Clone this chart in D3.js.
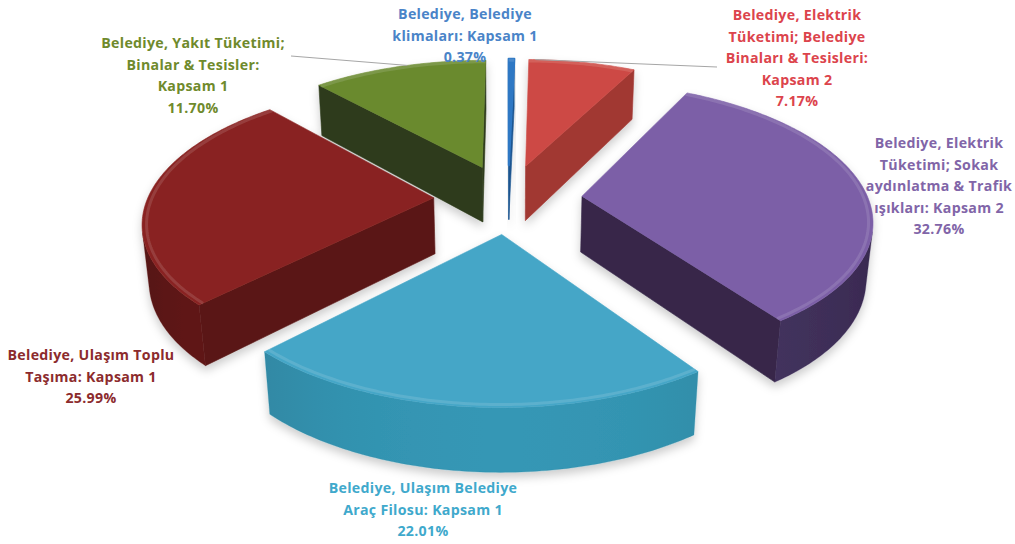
<!DOCTYPE html>
<html><head><meta charset="utf-8">
<script src="https://cdn.jsdelivr.net/npm/d3@7"></script>
<style>body{margin:0;background:#fff} svg{display:block}</style>
</head><body>
<script>
// ---- data ----
const categories = [
  "Belediye, Belediye klimaları: Kapsam 1",
  "Belediye, Elektrik Tüketimi; Belediye Binaları & Tesisleri: Kapsam 2",
  "Belediye, Elektrik Tüketimi; Sokak aydınlatma & Trafik ışıkları: Kapsam 2",
  "Belediye, Ulaşım Belediye Araç Filosu: Kapsam 1",
  "Belediye, Ulaşım Toplu Taşıma: Kapsam 1",
  "Belediye, Yakıt Tüketimi; Binalar & Tesisler: Kapsam 1"
];
const labelLines = [
  ["Belediye, Belediye", "klimaları: Kapsam 1"],
  ["Belediye, Elektrik", "Tüketimi; Belediye", "Binaları & Tesisleri:", "Kapsam 2"],
  ["Belediye, Elektrik", "Tüketimi; Sokak", "aydınlatma & Trafik", "ışıkları: Kapsam 2"],
  ["Belediye, Ulaşım Belediye", "Araç Filosu: Kapsam 1"],
  ["Belediye, Ulaşım Toplu", "Taşıma: Kapsam 1"],
  ["Belediye, Yakıt Tüketimi;", "Binalar & Tesisler:", "Kapsam 1"]
];
const values = [0.37, 7.17, 32.76, 22.01, 25.99, 11.70];
const percentLabels = ["0.37%", "7.17%", "32.76%", "22.01%", "25.99%", "11.70%"];

// ---- styles / layout ----
const topColors    = ["#2f78c4", "#cd4a44", "#7c5fa7", "#45a6c7", "#892321", "#6a8a2f"];
const radialColors = ["#1d5590", "#a13733", "#372849", "#2b7d96", "#5a1715", "#2d3a1b"];
const outerColors  = ["#245f9e", "#b03c37", "#3f2f59", "#2f88a3", "#5f1816", "#3e5020"];
const labelColors  = ["#4a84c8", "#dc444c", "#8165a8", "#3fa9cc", "#8c2b2d", "#6f8a2c"];
const labelPos     = [[465, 14], [797, 15], [939, 143], [423, 488], [91, 355], [193, 43]];
const leaderEnds   = [null, [717, 67], null, null, null, [291, 56]];
const leaderFrac   = [0.5, 0.06, 0.5, 0.5, 0.5, 0.55];

const W = 1015, H = 544;
const svg = d3.select("body").append("svg").attr("width", W).attr("height", H);

const defs = svg.append("defs");
const flt = defs.append("filter").attr("id", "sh").attr("x", "-20%").attr("y", "-20%").attr("width", "140%").attr("height", "150%");
flt.append("feDropShadow").attr("dx", 0).attr("dy", 5).attr("stdDeviation", 5)
   .attr("flood-color", "#000").attr("flood-opacity", 0.2);

// perspective projection of a pie lying on a plane
const D = 5.6, sa = 0.465, ca = Math.sqrt(1 - sa * sa), F = 1602, cx = 508, cy = 198.5;
const E = 0.26, HD = 0.225;
const cam = [0, D * ca, D * sa];
function proj(p) {
  const [u, v, w] = p;
  const xc = u, yc = v * sa - w * ca, zc = D - v * ca - w * sa;
  return [cx + F * xc / zc, cy + F * yc / zc];
}
const line = d3.line().curve(d3.curveLinearClosed);

const arcs = d3.pie().sort(null).value(d => d)(values);

const slices = arcs.map((a, i) => {
  const s = a.startAngle, e = a.endAngle, m = (s + e) / 2;
  const ou = E * Math.sin(m), ov = -E * Math.cos(m);
  return {i, s, e, m, ou, ov, z: D - ov * ca};
}).sort((a, b) => b.z - a.z);

const g = svg.append("g");
slices.forEach(sl => {
  const {i, s, e, ou, ov} = sl;
  const P = (t, r, w) => [ou + r * Math.sin(t), ov - r * Math.cos(t), w];
  const N = Math.max(2, Math.ceil((e - s) / 0.015));
  const ts = d3.range(N + 1).map(k => s + (e - s) * k / N);
  const gs = g.append("g").attr("filter", "url(#sh)");
  const vis = (n, p) => n[0] * (cam[0] - p[0]) + n[1] * (cam[1] - p[1]) > 0;

  // radial walls
  [[s, [-Math.cos(s), -Math.sin(s)]], [e, [Math.cos(e), Math.sin(e)]]].forEach(([t, n]) => {
    if (vis(n, [ou, ov])) {
      const pts = [P(t, 0, 0), P(t, 1, 0), P(t, 1, -HD), P(t, 0, -HD)].map(proj);
      gs.append("path").attr("d", line(pts)).attr("fill", radialColors[i])
        .attr("stroke", radialColors[i]).attr("stroke-width", 0.6).attr("stroke-linejoin", "round");
    }
  });
  // outer curved wall: visible runs drawn as one polygon with a horizontal gradient
  const runs = []; let cur = null;
  ts.forEach((t, k) => {
    const n = [Math.sin(t), -Math.cos(t)];
    const ok = vis(n, P(t, 1, 0));
    if (ok) { if (!cur) { cur = []; runs.push(cur); } cur.push(t); }
    else cur = null;
  });
  runs.forEach((run, ri) => {
    if (run.length < 2) return;
    const topP = run.map(t => proj(P(t, 1, 0)));
    const botP = run.map(t => proj(P(t, 1, -HD))).reverse();
    const xs = topP.map(p => p[0]);
    const x0 = d3.min(xs), x1 = d3.max(xs);
    const gid = `wg${i}_${ri}`;
    const lg = defs.append("linearGradient").attr("id", gid).attr("gradientUnits", "userSpaceOnUse")
      .attr("x1", x0).attr("x2", x1).attr("y1", 0).attr("y2", 0);
    const samples = run.map((t, k) => {
      const n = [Math.sin(t), -Math.cos(t)];
      const pm = P(t, 1, 0);
      const dv = [cam[0] - pm[0], cam[1] - pm[1], cam[2] - pm[2]];
      const f = (n[0] * dv[0] + n[1] * dv[1]) / Math.hypot(...dv);
      return {x: topP[k][0], c: d3.color(outerColors[i]).brighter(0.8 * (f - 0.45)).formatHex()};
    }).sort((a, b) => a.x - b.x);
    const step = Math.max(1, Math.floor(samples.length / 12));
    samples.forEach((sm, k) => {
      if (k % step && k !== samples.length - 1) return;
      lg.append("stop").attr("offset", x1 > x0 ? (sm.x - x0) / (x1 - x0) : 0).attr("stop-color", sm.c);
    });
    gs.append("path").attr("d", line(topP.concat(botP))).attr("fill", `url(#${gid})`)
      .attr("stroke", outerColors[i]).attr("stroke-width", 0.5).attr("stroke-opacity", 0.6);
  });
  // top face
  const topPts = [P(s, 0, 0)].concat(ts.map(t => P(t, 1, 0))).map(proj);
  gs.append("path").attr("d", line(topPts)).attr("fill", topColors[i])
    .attr("stroke", topColors[i]).attr("stroke-width", values[i] < 1 ? 2.2 : 0.6).attr("stroke-linejoin", "round");
  // soft bevel highlight along the outer rim
  gs.append("path").attr("d", d3.line()(ts.map(t => proj(P(t, 0.985, 0)))))
    .attr("fill", "none").attr("stroke", "#fff").attr("stroke-opacity", 0.12).attr("stroke-width", 3);
  const ta = s + (e - s) * leaderFrac[i];
  sl.anchor = proj(P(ta, 1, 0));
});

// leader lines
slices.forEach(sl => {
  const le = leaderEnds[sl.i];
  if (!le) return;
  svg.append("line").attr("x1", le[0]).attr("y1", le[1]).attr("x2", sl.anchor[0]).attr("y2", sl.anchor[1])
    .attr("stroke", "#a6a6a6").attr("stroke-width", 1);
});

// labels
const lh = 21.6;
labelLines.forEach((lines, i) => {
  const all = lines.concat([percentLabels[i]]);
  const t = svg.append("text").attr("text-anchor", "middle")
    .attr("font-family", "'Open Sans', 'Noto Sans', sans-serif").attr("font-weight", "bold")
    .attr("font-size", 14.2).attr("letter-spacing", 0.3).attr("fill", labelColors[i]);
  all.forEach((ln, k) => {
    t.append("tspan").attr("x", labelPos[i][0]).attr("y", labelPos[i][1] + 5 + k * lh).text(ln);
  });
});
</script>
</body></html>
